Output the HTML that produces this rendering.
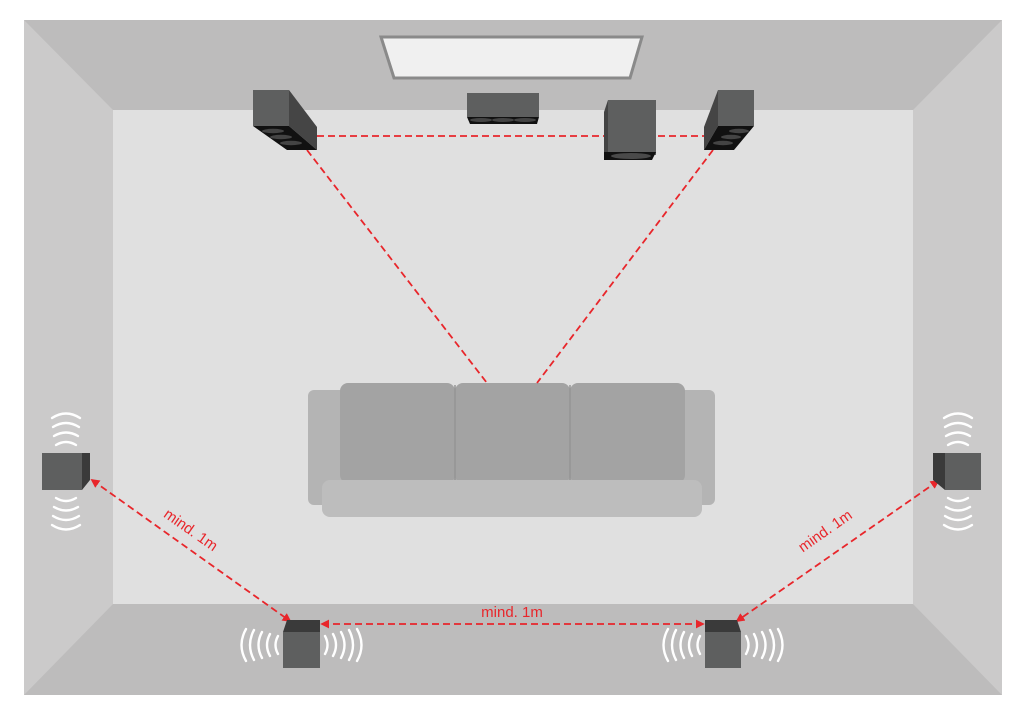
<!DOCTYPE html>
<html><head><style>body{margin:0;background:#fff}svg{display:block}</style></head><body>
<svg width="1024" height="716" viewBox="0 0 1024 716" xmlns="http://www.w3.org/2000/svg">
<defs>
<marker id="ar" viewBox="0 0 10 10" refX="8" refY="5" markerWidth="5" markerHeight="5" orient="auto-start-reverse"><path d="M0,0L10,5L0,10z" fill="#e8262b"/></marker>
</defs>
<rect x="24" y="20" width="978" height="675" fill="#cbcaca"/>
<polygon points="24,20 1002,20 913,110 113,110" fill="#bdbcbc"/>
<polygon points="24,695 1002,695 913,604 113,604" fill="#bdbcbc"/>
<rect x="113" y="110" width="800" height="494" fill="#e0e0e0"/>
<polygon points="381,37 642,37 630,78 394,78" fill="#f0f0f0" stroke="#8a8a8a" stroke-width="3"/>
<rect x="308" y="390" width="407" height="115" rx="6" fill="#b4b4b4"/>
<rect x="340" y="383" width="115" height="100" rx="8" fill="#a3a3a3"/>
<rect x="455" y="383" width="115" height="100" rx="8" fill="#a3a3a3"/>
<rect x="570" y="383" width="115" height="100" rx="8" fill="#a3a3a3"/>
<line x1="455" y1="385" x2="455" y2="480" stroke="#959595" stroke-width="1.5"/>
<line x1="570" y1="385" x2="570" y2="480" stroke="#959595" stroke-width="1.5"/>
<rect x="322" y="480" width="380" height="37" rx="8" fill="#bdbdbd"/>
<g stroke="#e8262b" stroke-width="1.8" stroke-dasharray="7,4" fill="none">
<line x1="317" y1="136" x2="704" y2="136"/>
<line x1="307" y1="150" x2="487" y2="383"/>
<line x1="713" y1="150" x2="537" y2="383"/>
<line x1="92" y1="480" x2="290" y2="621" marker-start="url(#ar)" marker-end="url(#ar)"/>
<line x1="322" y1="624" x2="703" y2="624" marker-start="url(#ar)" marker-end="url(#ar)"/>
<line x1="938" y1="481" x2="737" y2="621" marker-start="url(#ar)" marker-end="url(#ar)"/>
</g>
<g fill="#e8262b" font-family="Liberation Sans, sans-serif" font-size="15">
<text x="512" y="617" text-anchor="middle">mind. 1m</text>
<text x="188" y="534" text-anchor="middle" transform="rotate(35 188 534)">mind. 1m</text>
<text x="828" y="535" text-anchor="middle" transform="rotate(-35 828 535)">mind. 1m</text>
</g>
<rect x="253" y="90" width="36" height="36" fill="#5e5f5f"/>
<polygon points="289,90 317,127 317,150 289,126" fill="#454545"/>
<polygon points="253,126 289,126 317,150 287,150" fill="#111"/>
<g fill="#444"><ellipse cx="273" cy="131" rx="11" ry="2.2"/><ellipse cx="281" cy="137" rx="11" ry="2.2"/><ellipse cx="291" cy="143" rx="11" ry="2.2"/></g>
<rect x="718" y="90" width="36" height="36" fill="#5e5f5f"/>
<polygon points="718,90 704,127 704,150 718,126" fill="#454545"/>
<polygon points="754,126 718,126 704,150 734,150" fill="#111"/>
<g fill="#444"><ellipse cx="739" cy="131" rx="10" ry="2.2"/><ellipse cx="731" cy="137" rx="10" ry="2.2"/><ellipse cx="723" cy="143" rx="10" ry="2.2"/></g>
<rect x="467" y="93" width="72" height="24" fill="#5e5f5f"/>
<polygon points="467,117 539,117 537,124 470,124" fill="#111"/>
<g fill="#444"><ellipse cx="481" cy="120" rx="11" ry="2"/><ellipse cx="503" cy="120" rx="11" ry="2"/><ellipse cx="525" cy="120" rx="11" ry="2"/></g>
<rect x="608" y="100" width="48" height="55" fill="#5e5f5f"/>
<polygon points="608,100 604,112 604,160 608,155" fill="#444"/>
<polygon points="604,152 656,152 652,160 604,160" fill="#111"/>
<ellipse cx="631" cy="156" rx="20" ry="3" fill="#4a4a4a"/>
<rect x="42" y="453" width="40" height="37" fill="#5e5f5f"/>
<polygon points="82,453 90,453 90,480 82,490" fill="#3a3a3a"/>
<rect x="945" y="453" width="36" height="37" fill="#5e5f5f"/>
<polygon points="933,453 945,453 945,490 933,480" fill="#3a3a3a"/>
<rect x="283" y="632" width="37" height="36" fill="#5e5f5f"/>
<polygon points="287,620 320,620 320,632 283,632" fill="#3a3a3a"/>
<rect x="705" y="632" width="36" height="36" fill="#5e5f5f"/>
<polygon points="705,620 737,620 741,632 705,632" fill="#3a3a3a"/>
<g stroke="#fff" stroke-width="2.4" fill="none" stroke-linecap="round">
<g><path d="M56,445 Q66,439 76,445"/><path d="M54,436 Q66,429 78,436"/><path d="M53,427 Q66,419 79,427"/><path d="M52,418 Q66,409 80,418"/></g>
<g transform="translate(0,943) scale(1,-1)"><path d="M56,445 Q66,439 76,445"/><path d="M54,436 Q66,429 78,436"/><path d="M53,427 Q66,419 79,427"/><path d="M52,418 Q66,409 80,418"/></g>
<g transform="translate(892,0)"><path d="M56,445 Q66,439 76,445"/><path d="M54,436 Q66,429 78,436"/><path d="M53,427 Q66,419 79,427"/><path d="M52,418 Q66,409 80,418"/></g>
<g transform="translate(892,943) scale(1,-1)"><path d="M56,445 Q66,439 76,445"/><path d="M54,436 Q66,429 78,436"/><path d="M53,427 Q66,419 79,427"/><path d="M52,418 Q66,409 80,418"/></g>
<g><path d="M325,636 Q330,645 325,654"/><path d="M333,634 Q339,645 333,656"/><path d="M341,632 Q348,645 341,658"/><path d="M349,630 Q357,645 349,660"/><path d="M357,629 Q366,645 357,661"/></g>
<g transform="translate(603,0) scale(-1,1)"><path d="M325,636 Q330,645 325,654"/><path d="M333,634 Q339,645 333,656"/><path d="M341,632 Q348,645 341,658"/><path d="M349,630 Q357,645 349,660"/><path d="M357,629 Q366,645 357,661"/></g>
<g transform="translate(421,0)"><path d="M325,636 Q330,645 325,654"/><path d="M333,634 Q339,645 333,656"/><path d="M341,632 Q348,645 341,658"/><path d="M349,630 Q357,645 349,660"/><path d="M357,629 Q366,645 357,661"/></g>
<g transform="translate(1025,0) scale(-1,1)"><path d="M325,636 Q330,645 325,654"/><path d="M333,634 Q339,645 333,656"/><path d="M341,632 Q348,645 341,658"/><path d="M349,630 Q357,645 349,660"/><path d="M357,629 Q366,645 357,661"/></g>
</g>
</svg>
</body></html>
